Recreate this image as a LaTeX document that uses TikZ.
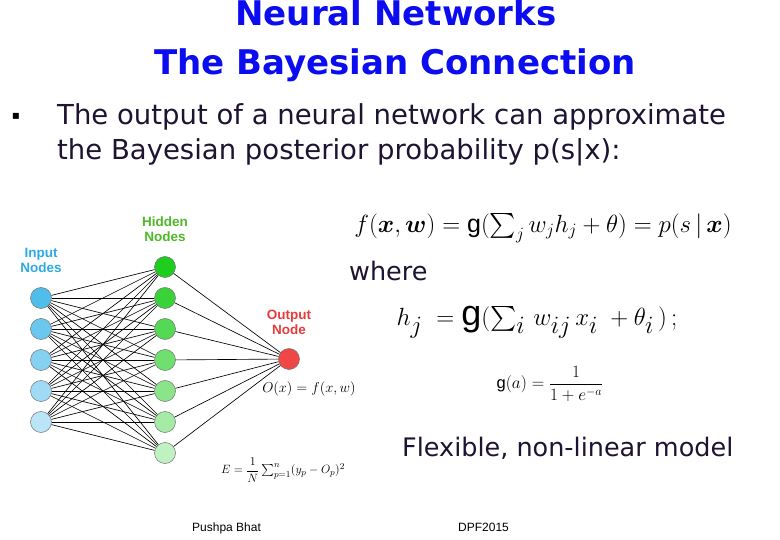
\documentclass[tikz,border=0pt]{standalone}
\usepackage{amsmath}
\usepackage{fontspec}
\setmainfont{Liberation Serif}
\setsansfont{Liberation Sans}
\newfontfamily\slidefont{DejaVu Sans}
\usetikzlibrary{positioning}
\definecolor{titleblue}{RGB}{12,12,240}
\definecolor{inkdark}{RGB}{30,20,50}
\definecolor{inblue}{RGB}{80,190,235}
\definecolor{hidgreen}{RGB}{30,205,30}
\definecolor{outred}{RGB}{240,70,70}
\definecolor{labelblue}{RGB}{45,170,225}
\definecolor{labelgreen}{RGB}{80,185,40}
\definecolor{labelred}{RGB}{230,60,60}
\tikzset{
  neuron/.style={
    circle, draw=black!55, line width=0.5pt,
    minimum size=21pt, inner sep=0pt
  },
  edge/.style={black, line width=0.65pt},
  layerlabel/.style={
    font=\fontsize{13.5}{15.5}\selectfont\sffamily\bfseries,
    align=center, inner sep=0pt
  },
  slidetext/.style={
    font=\fontsize{25.5}{30}\selectfont\slidefont, text=inkdark,
    inner sep=0pt, anchor=base west
  },
  titletext/.style={
    font=\fontsize{34}{40}\selectfont\slidefont\bfseries, text=titleblue,
    inner sep=0pt, anchor=base
  },
  footer/.style={font=\fontsize{12}{14}\selectfont\sffamily, inner sep=0pt, anchor=base west}
}

\begin{document}
\begin{tikzpicture}[x=1pt, y=-1pt]
  \useasboundingbox[fill=white] (0,0) rectangle (780,540);

  % title
  \node[titletext] (title1) at (396,26) {Neural Networks};
  \node[titletext] (title2) at (395,75) {The Bayesian Connection};

  % bullet
  \node[inner sep=0pt, font=\fontsize{12}{14}\selectfont\slidefont] (bullet) at (16,116) {▪};
  \node[slidetext, font=\fontsize{27.5}{32}\selectfont\slidefont] (line1) at (57,125) {The output of a neural network can approximate};
  \node[slidetext, font=\fontsize{27.5}{32}\selectfont\slidefont] (line2) at (57,160) {the Bayesian posterior probability p(s|x):};

  % network
  \foreach \i [evaluate=\i as \mix using 100-15*(\i-1)] in {1,...,5}
    \node[neuron, fill=inblue!\mix!white] (in\i) at (41,{298+31*(\i-1)}) {};
  \foreach \j [evaluate=\j as \mix using 100-12*(\j-1)] in {1,...,7}
    \node[neuron, fill=hidgreen!\mix!white] (hid\j) at (165,{267+31*(\j-1)}) {};
  \node[neuron, fill=outred] (out) at (289,359) {};

  \foreach \i in {1,...,5}
    \foreach \j in {1,...,7}
      \draw[edge] (in\i) -- (hid\j);
  \foreach \j in {1,...,7}
    \draw[edge] (hid\j) -- (out);

  \node[layerlabel, text=labelblue, above=14pt of in1] (inlabel) {Input\\Nodes};
  \node[layerlabel, text=labelgreen, above=14pt of hid1] (hidlabel) {Hidden\\Nodes};
  \node[layerlabel, text=labelred, above=13pt of out] (outlabel) {Output\\Node};

  \node[inner sep=0pt, font=\fontsize{15}{17}\selectfont] (ox) at (309,389) {$O(x)=f(x,w)$};
  \node[inner sep=0pt, font=\fontsize{12.5}{15}\selectfont] (err) at (283,470)
    {$E=\dfrac{1}{N}\sum_{p=1}^{n}(y_p-O_p)^2$};

  % formulas
  \node[inner sep=0pt, font=\fontsize{25}{28}\selectfont] (fx) at (543,228)
    {$f(\boldsymbol{x},\boldsymbol{w})=\textsf{g}(\sum_j w_j h_j+\theta)=p(s\,|\,\boldsymbol{x})$};
  \node[slidetext] (where) at (349,281) {where};
  \node[inner sep=0pt, font=\fontsize{36}{40}\selectfont] (hj) at (537,322)
    {$h_{j}\;=\textsf{g}(\textstyle\sum_i\, w_{ij}\,x_i\;+\theta_i\,)\,;$};
  \node[inner sep=0pt, font=\fontsize{16.5}{19}\selectfont] (ga) at (550,384)
    {$\textsf{g}(a)=\dfrac{1}{1+e^{-a}}$};

  \node[slidetext] (flex) at (402,456) {Flexible, non-linear model};

  \node[footer] (author) at (192,531) {Pushpa Bhat};
  \node[footer] (conf) at (458,531) {DPF2015};
\end{tikzpicture}
\end{document}
